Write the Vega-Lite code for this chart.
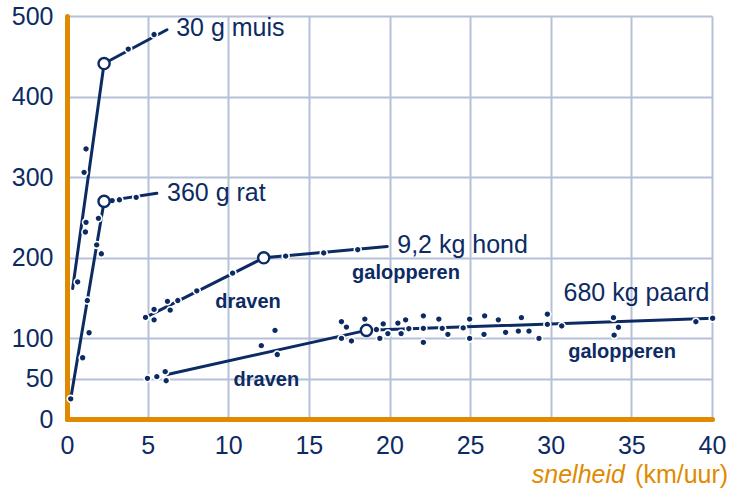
{
  "$schema": "https://vega.github.io/schema/vega-lite/v6.json",
  "width": 645,
  "height": 403,
  "autosize": {"type": "none"},
  "padding": {"left": 67, "top": 16, "right": 21, "bottom": 70},
  "background": "white",
  "config": {"view": {"stroke": null}, "font": "Liberation Sans"},
  "datasets": {
    "lines": [
      {"dier": "muis", "o": 1, "x": 0.35, "y": 162},
      {"dier": "muis", "o": 2, "x": 2.3, "y": 441},
      {"dier": "muis", "o": 3, "x": 6.2, "y": 483},
      {"dier": "rat", "o": 1, "x": 0.23, "y": 25},
      {"dier": "rat", "o": 2, "x": 2.3, "y": 270},
      {"dier": "rat", "o": 3, "x": 5.57, "y": 280},
      {"dier": "hond", "o": 1, "x": 4.87, "y": 126},
      {"dier": "hond", "o": 2, "x": 12.2, "y": 200},
      {"dier": "hond", "o": 3, "x": 19.86, "y": 214},
      {"dier": "paard", "o": 1, "x": 6.15, "y": 55},
      {"dier": "paard", "o": 2, "x": 18.57, "y": 110},
      {"dier": "paard", "o": 3, "x": 40.04, "y": 125}
    ],
    "overgang": [
      {"dier": "muis", "x": 2.3, "y": 441},
      {"dier": "rat", "x": 2.3, "y": 270},
      {"dier": "hond", "x": 12.2, "y": 200},
      {"dier": "paard", "x": 18.57, "y": 110}
    ],
    "metingen": [
      {"dier": "muis", "x": 0.66, "y": 170},
      {"dier": "muis", "x": 1.06, "y": 306},
      {"dier": "muis", "x": 1.18, "y": 335},
      {"dier": "muis", "x": 1.18, "y": 244},
      {"dier": "muis", "x": 1.14, "y": 232},
      {"dier": "muis", "x": 3.8, "y": 459},
      {"dier": "muis", "x": 5.4, "y": 477},
      {"dier": "rat", "x": 0.23, "y": 25},
      {"dier": "rat", "x": 0.97, "y": 76},
      {"dier": "rat", "x": 1.26, "y": 147},
      {"dier": "rat", "x": 1.37, "y": 107},
      {"dier": "rat", "x": 1.84, "y": 216},
      {"dier": "rat", "x": 2.13, "y": 205},
      {"dier": "rat", "x": 1.95, "y": 249},
      {"dier": "rat", "x": 2.8, "y": 271},
      {"dier": "rat", "x": 3.25, "y": 272},
      {"dier": "rat", "x": 4.29, "y": 275},
      {"dier": "hond", "x": 4.87, "y": 126},
      {"dier": "hond", "x": 5.4, "y": 136},
      {"dier": "hond", "x": 5.4, "y": 123},
      {"dier": "hond", "x": 6.23, "y": 146},
      {"dier": "hond", "x": 6.4, "y": 135},
      {"dier": "hond", "x": 6.87, "y": 147},
      {"dier": "hond", "x": 8.05, "y": 159},
      {"dier": "hond", "x": 10.27, "y": 181},
      {"dier": "hond", "x": 13.56, "y": 202},
      {"dier": "hond", "x": 15.92, "y": 206},
      {"dier": "hond", "x": 18.03, "y": 210},
      {"dier": "paard", "x": 4.99, "y": 50.5},
      {"dier": "paard", "x": 5.57, "y": 52.5},
      {"dier": "paard", "x": 6.09, "y": 58.7},
      {"dier": "paard", "x": 6.15, "y": 47.5},
      {"dier": "paard", "x": 12.05, "y": 91},
      {"dier": "paard", "x": 12.9, "y": 110},
      {"dier": "paard", "x": 13.04, "y": 80},
      {"dier": "paard", "x": 17.02, "y": 120.7},
      {"dier": "paard", "x": 17.33, "y": 114},
      {"dier": "paard", "x": 17.02, "y": 100},
      {"dier": "paard", "x": 17.64, "y": 96.8},
      {"dier": "paard", "x": 18.47, "y": 124},
      {"dier": "paard", "x": 19.19, "y": 111},
      {"dier": "paard", "x": 19.4, "y": 100},
      {"dier": "paard", "x": 19.61, "y": 118},
      {"dier": "paard", "x": 19.9, "y": 106},
      {"dier": "paard", "x": 20.52, "y": 119},
      {"dier": "paard", "x": 20.72, "y": 106},
      {"dier": "paard", "x": 21.0, "y": 123},
      {"dier": "paard", "x": 21.2, "y": 112},
      {"dier": "paard", "x": 22.1, "y": 128},
      {"dier": "paard", "x": 22.1, "y": 112.5},
      {"dier": "paard", "x": 22.1, "y": 95},
      {"dier": "paard", "x": 23.06, "y": 124},
      {"dier": "paard", "x": 23.27, "y": 112.5},
      {"dier": "paard", "x": 23.62, "y": 105},
      {"dier": "paard", "x": 24.57, "y": 113},
      {"dier": "paard", "x": 24.97, "y": 124},
      {"dier": "paard", "x": 24.97, "y": 100},
      {"dier": "paard", "x": 25.9, "y": 128},
      {"dier": "paard", "x": 25.86, "y": 105},
      {"dier": "paard", "x": 26.75, "y": 123},
      {"dier": "paard", "x": 27.2, "y": 107.5},
      {"dier": "paard", "x": 27.99, "y": 109},
      {"dier": "paard", "x": 28.18, "y": 125.7},
      {"dier": "paard", "x": 28.65, "y": 109},
      {"dier": "paard", "x": 29.27, "y": 100},
      {"dier": "paard", "x": 29.79, "y": 130},
      {"dier": "paard", "x": 29.79, "y": 117.5},
      {"dier": "paard", "x": 30.68, "y": 115.4},
      {"dier": "paard", "x": 33.89, "y": 125.7},
      {"dier": "paard", "x": 34.2, "y": 113.8},
      {"dier": "paard", "x": 33.93, "y": 104},
      {"dier": "paard", "x": 39.0, "y": 120.7},
      {"dier": "paard", "x": 40.04, "y": 125}
    ],
    "labels": [
      {"soort": "naam", "tekst": "30 g muis", "x": 6.77, "y": 485},
      {"soort": "naam", "tekst": "360 g rat", "x": 6.2, "y": 280},
      {"soort": "naam", "tekst": "9,2 kg hond", "x": 20.48, "y": 216},
      {"soort": "naam", "tekst": "680 kg paard", "x": 30.79, "y": 156},
      {"soort": "gang", "tekst": "draven", "x": 9.19, "y": 145.5},
      {"soort": "gang", "tekst": "draven", "x": 10.33, "y": 48.4},
      {"soort": "gang", "tekst": "galopperen", "x": 17.68, "y": 180.7},
      {"soort": "gang", "tekst": "galopperen", "x": 31.08, "y": 83.5}
    ],
    "astitel": [
      {"deel": "snelheid", "x": 34.6, "y": -69.5},
      {"deel": "(km/uur)", "x": 41.0, "y": -69.5}
    ]
  },
  "encoding": {
    "x": {
      "field": "x",
      "type": "quantitative",
      "scale": {"domain": [0, 40], "nice": false, "zero": false},
      "axis": {
        "values": [0, 5, 10, 15, 20, 25, 30, 35, 40],
        "grid": true,
        "gridColor": "#b6c1d8",
        "gridWidth": 2,
        "gridOpacity": {"condition": {"test": "datum.value === 0", "value": 0}, "value": 1},
        "domainColor": "#e08a00",
        "domainWidth": 5,
        "domainCap": "round",
        "ticks": false,
        "labelFontSize": 25,
        "labelFont": "Liberation Sans",
        "labelColor": "#0d2b63",
        "labelPadding": 14,
        "labelFlush": false,
        "title": null
      }
    },
    "y": {
      "field": "y",
      "type": "quantitative",
      "scale": {"domain": [0, 500], "nice": false},
      "axis": {
        "values": [0, 50, 100, 200, 300, 400, 500],
        "grid": true,
        "gridColor": "#b6c1d8",
        "gridWidth": 2,
        "gridOpacity": {"condition": {"test": "datum.value === 0", "value": 0}, "value": 1},
        "domainColor": "#e08a00",
        "domainWidth": 5,
        "domainCap": "round",
        "ticks": false,
        "labelFontSize": 25,
        "labelFont": "Liberation Sans",
        "labelColor": "#0d2b63",
        "labelPadding": 14,
        "labelFlush": false,
        "title": null
      }
    }
  },
  "layer": [
    {
      "data": {"name": "lines"},
      "mark": {"type": "line", "color": "#0d2b63", "strokeWidth": 3, "strokeCap": "round", "strokeJoin": "round"},
      "encoding": {
        "detail": {"field": "dier"},
        "order": {"field": "o", "type": "quantitative"}
      }
    },
    {
      "data": {"name": "metingen"},
      "mark": {"type": "point", "shape": "circle", "filled": true, "size": 48, "fill": "#0d2b63", "stroke": "white", "strokeWidth": 1.6, "opacity": 1}
    },
    {
      "data": {"name": "overgang"},
      "mark": {"type": "point", "shape": "circle", "filled": true, "size": 125, "fill": "white", "stroke": "#0d2b63", "strokeWidth": 2.4, "opacity": 1}
    },
    {
      "data": {"name": "labels"},
      "transform": [{"filter": "datum.soort === 'naam'"}],
      "mark": {"type": "text", "align": "left", "baseline": "middle", "fontSize": 25, "font": "Liberation Sans", "color": "#0d2b63"},
      "encoding": {"text": {"field": "tekst"}}
    },
    {
      "data": {"name": "labels"},
      "transform": [{"filter": "datum.soort === 'gang'"}],
      "mark": {"type": "text", "align": "left", "baseline": "middle", "fontSize": 20, "fontWeight": "bold", "font": "Liberation Sans", "color": "#0d2b63"},
      "encoding": {"text": {"field": "tekst"}}
    },
    {
      "data": {"name": "astitel"},
      "transform": [{"filter": "datum.deel === 'snelheid'"}],
      "mark": {"type": "text", "align": "right", "baseline": "middle", "fontSize": 25, "font": "Liberation Sans", "fontStyle": "italic", "fill": "#e08a00", "clip": false},
      "encoding": {"text": {"field": "deel"}}
    },
    {
      "data": {"name": "astitel"},
      "transform": [{"filter": "datum.deel !== 'snelheid'"}],
      "mark": {"type": "text", "align": "right", "baseline": "middle", "fontSize": 25, "font": "Liberation Sans", "fill": "#e08a00", "clip": false},
      "encoding": {"text": {"field": "deel"}}
    }
  ]
}
